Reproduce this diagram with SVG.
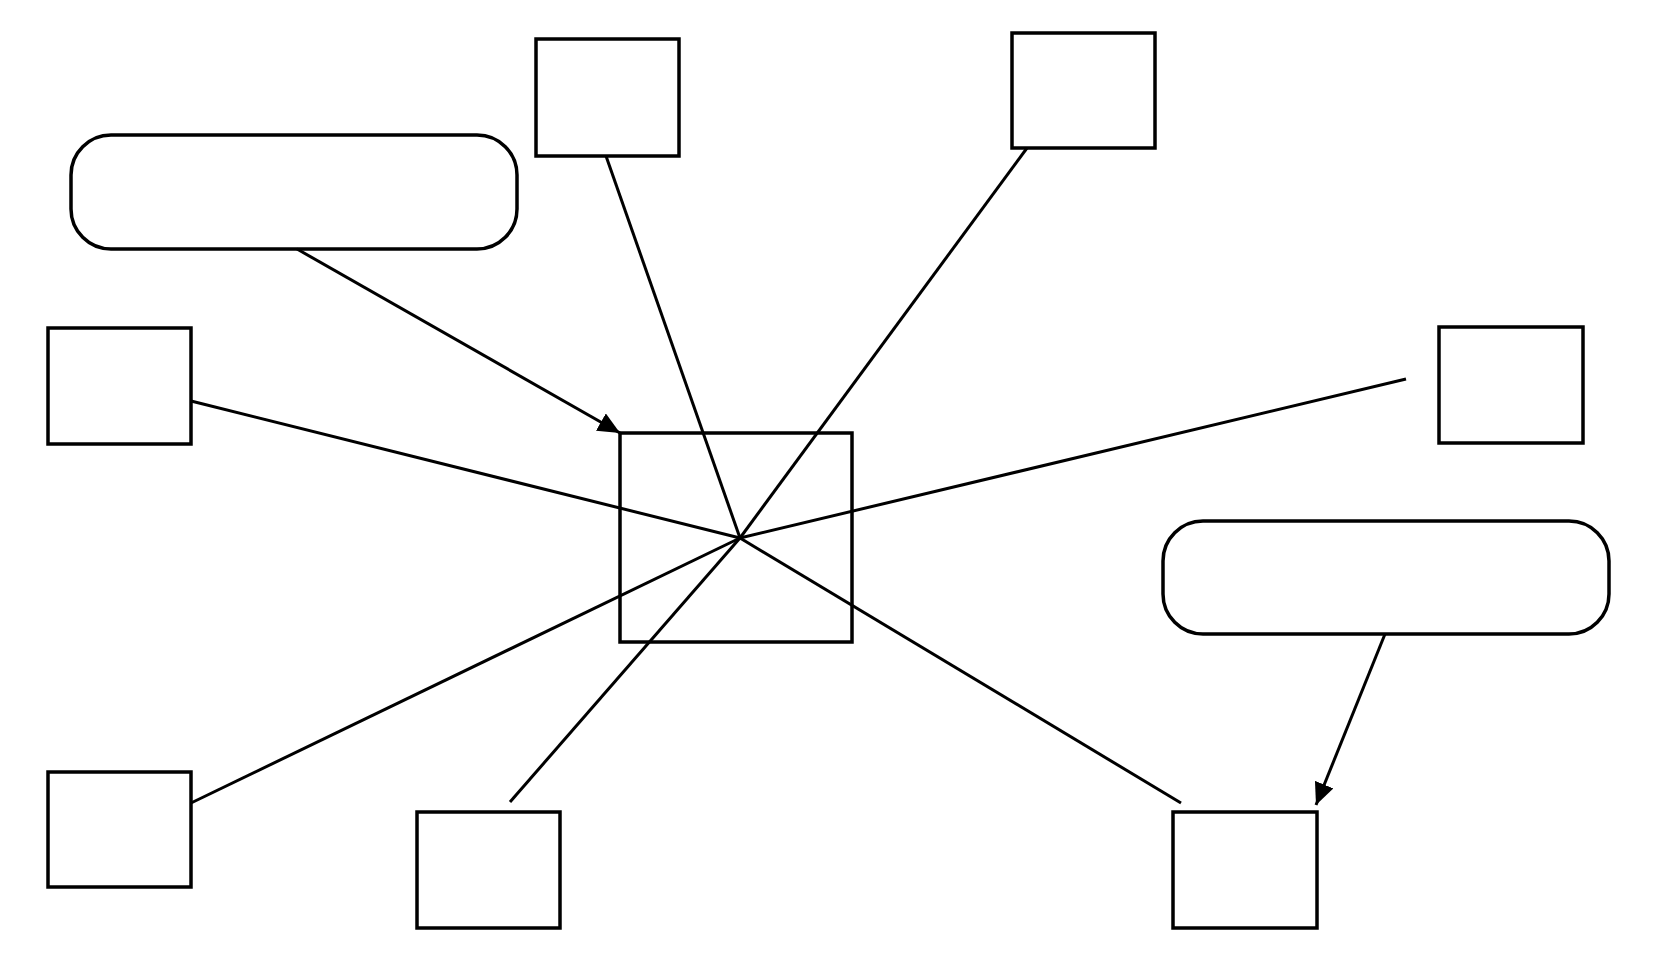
<svg xmlns="http://www.w3.org/2000/svg" width="1657" height="962" viewBox="0 0 1657 962">
<style>
.n{fill:#fff;stroke:#000;stroke-width:3.5}
.c{stroke:#000;stroke-width:3;fill:none}
</style>
<defs>
<marker id="ah" markerUnits="userSpaceOnUse" markerWidth="24" markerHeight="20" refX="22" refY="10" orient="auto">
<path d="M0,0 L22,10 L0,20 z" fill="#000"/>
</marker>
</defs>
<rect width="1657" height="962" fill="#fff"/>
<g id="nodes">
<g id="top-left-rounded"><rect class="n" x="71" y="135" width="446" height="114" rx="40" ry="40"/></g>
<g id="top-box"><rect class="n" x="536" y="39" width="143" height="117"/></g>
<g id="top-right-box"><rect class="n" x="1012" y="33" width="143" height="115"/></g>
<g id="left-box"><rect class="n" x="48" y="328" width="143" height="116"/></g>
<g id="center-box"><rect class="n" x="620" y="433" width="232" height="209"/></g>
<g id="right-box"><rect class="n" x="1439" y="327" width="144" height="116"/></g>
<g id="right-rounded"><rect class="n" x="1163" y="521" width="446" height="113" rx="40" ry="40"/></g>
<g id="bottom-left-box"><rect class="n" x="48" y="772" width="143" height="115"/></g>
<g id="bottom-mid-box"><rect class="n" x="417" y="812" width="143" height="116"/></g>
<g id="bottom-right-box"><rect class="n" x="1173" y="812" width="144" height="116"/></g>
</g>
<g id="connectors">
<line class="c" x1="606" y1="156" x2="740" y2="538"/>
<line class="c" x1="1027" y1="148" x2="740" y2="538"/>
<line class="c" x1="191" y1="401" x2="740" y2="538"/>
<line class="c" x1="1406" y1="379" x2="740" y2="538"/>
<line class="c" x1="191" y1="803" x2="740" y2="538"/>
<line class="c" x1="510" y1="802" x2="740" y2="538"/>
<line class="c" x1="1181" y1="803" x2="740" y2="538"/>
<line class="c" x1="297" y1="249" x2="620" y2="433" marker-end="url(#ah)"/>
<line class="c" x1="1385" y1="634" x2="1316" y2="805" marker-end="url(#ah)"/>
</g>
</svg>
